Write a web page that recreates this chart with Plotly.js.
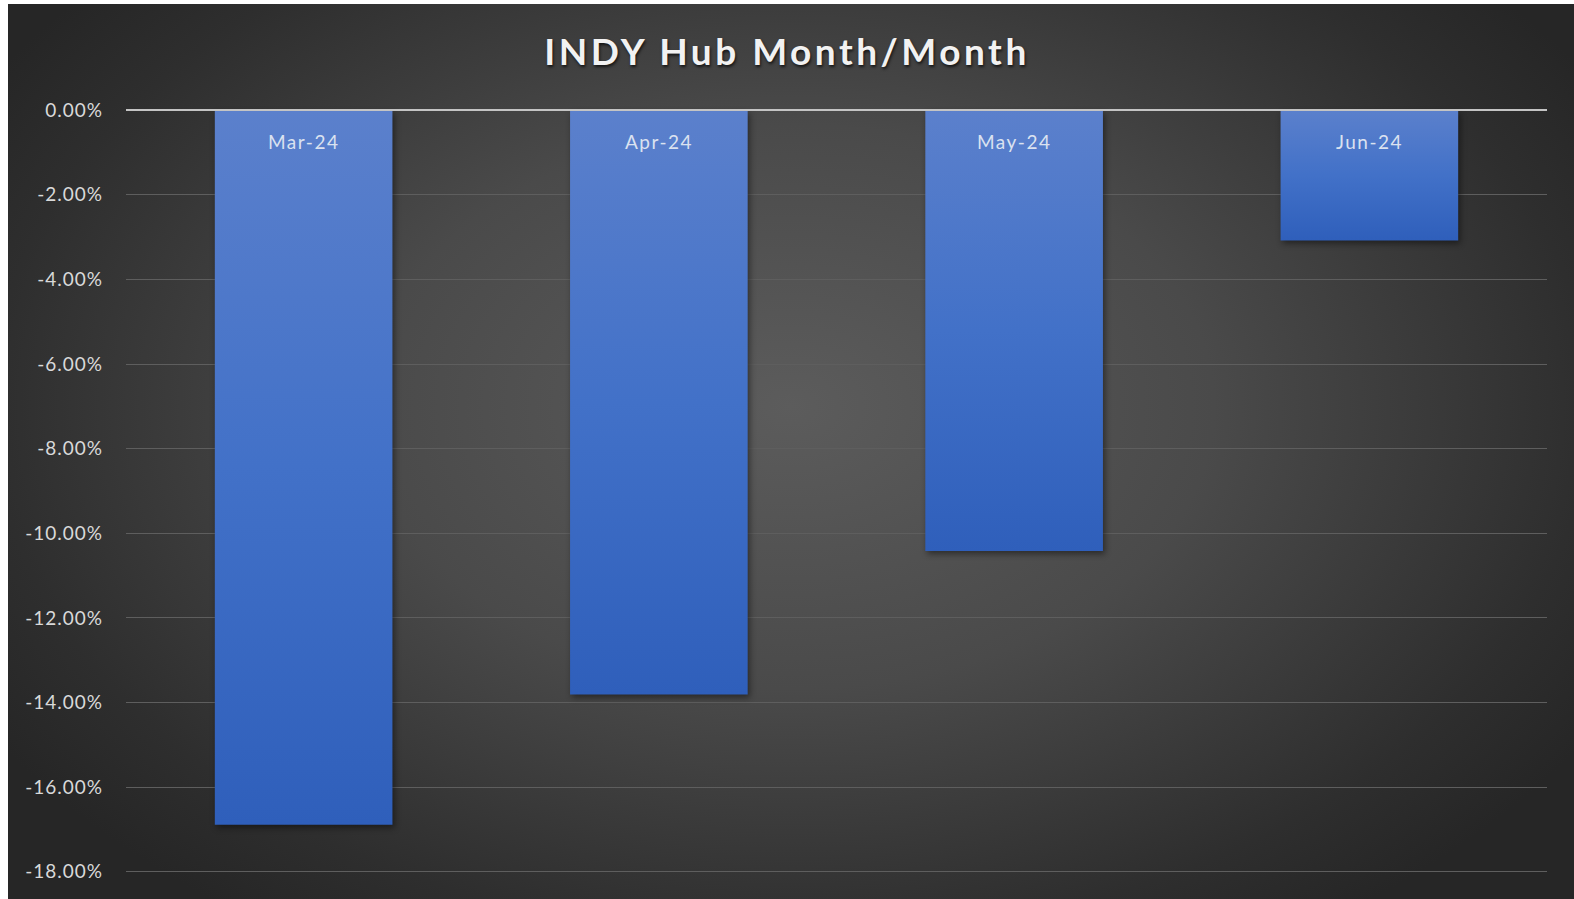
<!DOCTYPE html>
<html>
<head>
<meta charset="utf-8">
<script src="https://cdn.plot.ly/plotly-3.0.1.min.js"></script>
<style>
  html, body { margin: 0; padding: 0; background: #ffffff; }
  #bg {
    position: absolute; left: 8px; top: 4px; width: 1566px; height: 895px;
    background: radial-gradient(ellipse 60% 70% at 50% 45%, #5c5c5c 0%, #4a4a4a 45%, #2e2e2e 85%, #262626 100%);
  }
  #chart { position: absolute; left: 0; top: 0; width: 1574px; height: 899px; }
  .gtitle { letter-spacing: 3.5px; }
  .ytick text { letter-spacing: 1px; }
  .annotation-text { letter-spacing: 1.5px; }
</style>
</head>
<body>
<div id="bg"></div>
<div id="chart"></div>
<script>
const categories = ["Mar-24", "Apr-24", "May-24", "Jun-24"];
const changePct = [-16.89, -13.81, -10.42, -3.08];
const yTickVals = [0, -2, -4, -6, -8, -10, -12, -14, -16, -18];
const yTickText = ["0.00%", "-2.00%", "-4.00%", "-6.00%", "-8.00%", "-10.00%", "-12.00%", "-14.00%", "-16.00%", "-18.00%"];

const trace = {
  type: "bar",
  x: categories,
  y: changePct,
  marker: { color: "#4672c8", line: { width: 0 } },
  hoverinfo: "x+y"
};

// category labels sit just under the zero line, inside the bars
const categoryLabels = categories.map(function (c) {
  return {
    x: c, y: 0, xref: "x", yref: "y",
    text: c, showarrow: false,
    xanchor: "center", yanchor: "middle", yshift: -31.5,
    font: { family: "Lato, 'Open Sans', sans-serif", size: 19, color: "#dbe2f0" }
  };
});

const layout = {
  width: 1574,
  height: 899,
  paper_bgcolor: "rgba(0,0,0,0)",
  plot_bgcolor: "rgba(0,0,0,0)",
  margin: { l: 126, r: 27, t: 88.8, b: 25.8 },
  bargap: 0.5,
  showlegend: false,
  font: { family: "Lato, 'Open Sans', sans-serif", color: "#d9d9d9" },
  title: {
    text: "INDY Hub Month/Month",
    x: 0.5, xref: "container", xanchor: "center",
    y: 0.942, yref: "container", yanchor: "middle",
    font: { family: "Lato, 'Open Sans', sans-serif", size: 37, weight: 700, color: "#f2f2f2",
            shadow: "1px 2px 3px rgba(0,0,0,0.7)" }
  },
  annotations: categoryLabels,
  xaxis: {
    type: "category",
    showticklabels: false,
    ticks: "",
    showgrid: false,
    showline: false,
    zeroline: false
  },
  yaxis: {
    range: [-18.03, 0.5],
    tickmode: "array",
    tickvals: yTickVals,
    ticktext: yTickText,
    showgrid: true,
    gridcolor: "#5e5e5e",
    gridwidth: 1,
    zeroline: true,
    zerolinecolor: "#c4c4c4",
    zerolinewidth: 2,
    zerolinelayer: "above traces",
    showline: false,
    ticks: "",
    ticklabelstandoff: 22,
    tickfont: { size: 19, color: "#d9d9d9" }
  }
};

Plotly.newPlot("chart", [trace], layout, { displayModeBar: false, staticPlot: true }).then(function (gd) {
  const svg = gd.querySelector("svg.main-svg");
  const ns = "http://www.w3.org/2000/svg";
  let defs = svg.querySelector("defs");
  if (!defs) { defs = document.createElementNS(ns, "defs"); svg.insertBefore(defs, svg.firstChild); }
  const grad = document.createElementNS(ns, "linearGradient");
  grad.setAttribute("id", "barGrad");
  grad.setAttribute("x1", "0"); grad.setAttribute("y1", "0");
  grad.setAttribute("x2", "0"); grad.setAttribute("y2", "1");
  [["0", "#5b80cc"], ["0.5", "#4271c8"], ["1", "#2f5fbb"]].forEach(function (s) {
    const st = document.createElementNS(ns, "stop");
    st.setAttribute("offset", s[0]);
    st.setAttribute("stop-color", s[1]);
    grad.appendChild(st);
  });
  defs.appendChild(grad);
  gd.querySelectorAll(".bars .point path").forEach(function (p) {
    p.style.fill = "url(#barGrad)";
    p.style.filter = "drop-shadow(2px 3px 3px rgba(0,0,0,0.45))";
  });
});
</script>
</body>
</html>
